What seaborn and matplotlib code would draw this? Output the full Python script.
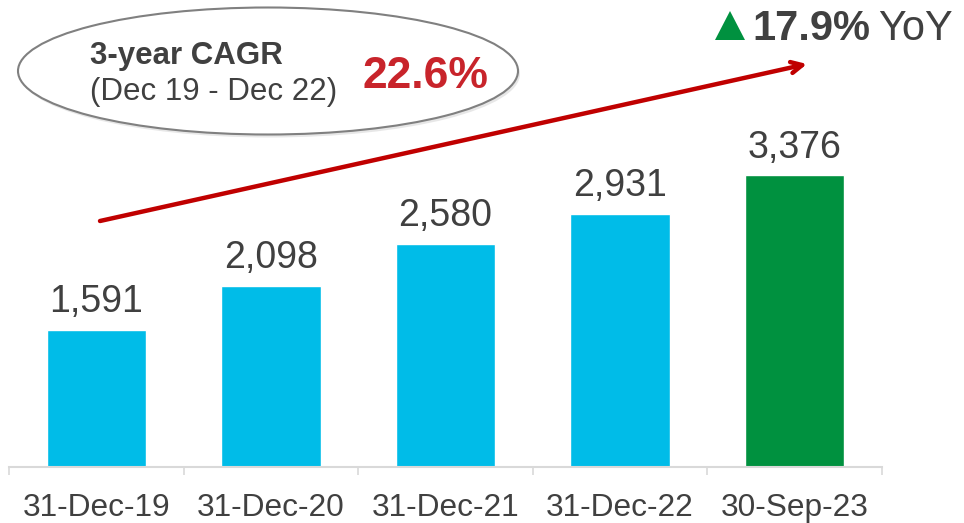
import matplotlib
matplotlib.use("Agg")
import matplotlib.pyplot as plt
from matplotlib.patches import Ellipse, FancyArrowPatch, Polygon
import numpy as np
import pandas as pd
import seaborn as sns

sns.set_theme(style="white")
plt.rcParams["font.family"] = ["Liberation Sans", "DejaVu Sans"]

TEXT = "#404040"
BLUE = "#00BCE8"
GREEN = "#00913F"
RED = "#C00000"
AXIS = "#D9D9D9"

periods = ["31-Dec-19", "31-Dec-20", "31-Dec-21", "31-Dec-22", "30-Sep-23"]
values = [1591, 2098, 2580, 2931, 3376]
bar_colors = [BLUE, BLUE, BLUE, BLUE, GREEN]

cagr_title = "3-year CAGR"
cagr_span = "(Dec 19 - Dec 22)"
cagr_value = "22.6%"
yoy_value = "17.9%"

df = pd.DataFrame({"period": periods, "value": values})

W, H = 964, 523
fig = plt.figure(figsize=(W / 100, H / 100), dpi=100)
ax = fig.add_axes([9 / W, (H - 467) / H, (882 - 9) / W, 467 / H])

sns.barplot(data=df, x="period", y="value", hue="period", palette=bar_colors,
            width=0.57, saturation=1, legend=False, ax=ax)
for cont in ax.containers:
    ax.bar_label(cont, labels=[f"{v:,.0f}" for v in cont.datavalues],
                 padding=7, fontsize=27, color=TEXT)

ax.set_xlim(-0.5, len(periods) - 0.5)
ax.set_ylim(0, 5405)
ax.set_xlabel("")
ax.set_ylabel("")
ax.set_yticks([])
for s in ["top", "left", "right"]:
    ax.spines[s].set_visible(False)
ax.spines["bottom"].set_color(AXIS)
ax.spines["bottom"].set_linewidth(1.5)
ax.set_xticks(np.arange(-0.5, len(periods), 1.0), minor=True)
ax.tick_params(axis="x", which="minor", length=6, width=1.2, color=AXIS, bottom=True)
ax.tick_params(axis="x", which="major", length=0, pad=18.5, labelsize=22.8, labelcolor=TEXT)

# overlay in pixel coordinates for the callouts
ov = fig.add_axes([0, 0, 1, 1], zorder=5)
ov.set_xlim(0, W)
ov.set_ylim(H, 0)
ov.axis("off")
ov.patch.set_alpha(0)

ov.add_patch(Ellipse((270, 74), 500, 127, facecolor="#D8D8D8", edgecolor="none", alpha=0.6))
ov.add_patch(Ellipse((268, 71), 500, 127, facecolor="white", edgecolor="#808080", lw=1.5))
ov.text(90, 64, cagr_title, fontsize=22.5, fontweight="bold", color=TEXT, va="baseline")
ov.text(90, 100, cagr_span, fontsize=22.5, color=TEXT, va="baseline")
ov.text(362, 88, cagr_value, fontsize=32, fontweight="bold", color="#C8242B", va="baseline")

ov.add_patch(FancyArrowPatch((100, 221), (807, 64), arrowstyle="->,head_length=8,head_width=4",
                             color=RED, lw=3.2, shrinkA=0, shrinkB=0))

ov.add_patch(Polygon([(715, 40), (745, 40), (730, 11)], closed=True, facecolor=GREEN, edgecolor="none"))
ov.text(752, 40, yoy_value, fontsize=30, fontweight="bold", color=TEXT, va="baseline")
ov.text(878, 40, "YoY", fontsize=30, color=TEXT, va="baseline")

fig.savefig("out.png", dpi=100)
